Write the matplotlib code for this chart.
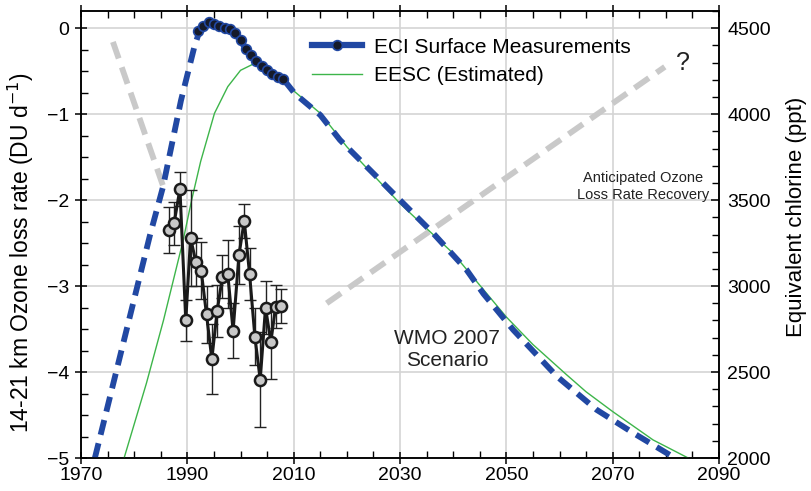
import matplotlib
matplotlib.use("Agg")
import matplotlib.pyplot as plt
from matplotlib.ticker import MultipleLocator

plt.rcParams['font.family'] = ['Liberation Sans', 'DejaVu Sans']

# ECI (dashed model curve), ozone loss rate units
eci_years = [1972.6, 1976, 1980, 1983, 1985.4, 1988.8, 1991.3, 1992.3, 1994.6, 1998.5,
             2001.7, 2005, 2008, 2010.2, 2015, 2018.7, 2025, 2030, 2036.3, 2042.5,
             2045.7, 2051.3, 2059.5, 2067, 2073.9, 2081.7]
eci_vals = [-5.0, -4.15, -3.15, -2.4, -1.85, -0.84, -0.22, -0.03, 0.07, -0.02,
            -0.29, -0.49, -0.59, -0.76, -1.01, -1.30, -1.69, -2.0, -2.39, -2.81,
            -3.09, -3.51, -4.05, -4.44, -4.71, -5.0]

# ECI surface measurements
meas_years = [1992, 1993, 1994, 1995, 1996, 1997, 1998, 1999, 2000, 2001, 2002,
              2003, 2004, 2005, 2006, 2007, 2008]
meas_vals = [-0.03, 0.03, 0.07, 0.05, 0.02, 0.0, -0.01, -0.06, -0.14, -0.24, -0.31,
             -0.38, -0.44, -0.49, -0.53, -0.57, -0.59]

# EESC (estimated)
eesc_years = [1978.1, 1982.3, 1985.5, 1989.2, 1990.8, 1992.5, 1995.1, 1997.6, 2000,
              2002.3, 2004, 2006.2, 2010.6, 2015, 2020, 2025, 2030, 2035, 2040, 2045,
              2050, 2055, 2061.3, 2065, 2070, 2077.6, 2084.2]
eesc_vals = [-5.0, -4.13, -3.40, -2.47, -2.0, -1.55, -0.99, -0.68, -0.49,
             -0.42, -0.45, -0.53, -0.76, -0.99, -1.38, -1.71, -2.04, -2.33, -2.62, -2.99,
             -3.36, -3.68, -4.03, -4.23, -4.46, -4.79, -5.0]

# 14-21 km ozone loss rate observations
loss_years = [1986.6, 1987.5, 1988.6, 1989.7, 1990.6, 1991.6, 1992.6, 1993.6, 1994.6,
              1995.6, 1996.6, 1997.6, 1998.6, 1999.7, 2000.7, 2001.7, 2002.7, 2003.7,
              2004.7, 2005.7, 2006.6, 2007.6]
loss_vals = [-2.35, -2.27, -1.87, -3.40, -2.44, -2.72, -2.82, -3.33, -3.85,
             -3.29, -2.89, -2.86, -3.52, -2.64, -2.24, -2.86, -3.59, -4.09,
             -3.25, -3.65, -3.24, -3.23]
loss_err = [0.27, 0.25, 0.2, 0.24, 0.56, 0.28, 0.33, 0.33, 0.41,
            0.3, 0.25, 0.4, 0.32, 0.34, 0.2, 0.3, 0.33, 0.55,
            0.31, 0.43, 0.25, 0.2]

# anticipated recovery guide lines
rec1_years = [1976.0, 1985.4]
rec1_vals = [-0.16, -1.83]
rec2_years = [2016.2, 2079.8]
rec2_vals = [-3.20, -0.45]

year_ticks = [1970, 1990, 2010, 2030, 2050, 2070, 2090]

blue = '#2148a3'
green = '#3db54a'
grey = '#c9c9c9'

fig = plt.figure(figsize=(8.12, 4.91), dpi=100)
ax = fig.add_axes([0.0998, 0.0672, 0.7857, 0.9104])

ax.plot(rec1_years, rec1_vals, color=grey, lw=4.2, dashes=(3, 1.6), zorder=2)
ax.plot(rec2_years, rec2_vals, color=grey, lw=4.2, dashes=(3, 1.6), zorder=2)

ax.plot(eesc_years, eesc_vals, color=green, lw=1.0, zorder=3)
ax.plot(eci_years, eci_vals, color=blue, lw=4.2, dashes=(2.6, 1.5), zorder=4)
h_meas, = ax.plot(meas_years, meas_vals, color=blue, lw=4.5, marker='o', ms=7,
                  mfc='#151a2a', mec=blue, mew=1.2, zorder=5)
h_eesc, = ax.plot([], [], color=green, lw=1.0)

ax.errorbar(loss_years, loss_vals, yerr=loss_err, fmt='none', ecolor='#222222',
            elinewidth=1.0, capsize=4.5, capthick=1.0, zorder=5)
ax.plot(loss_years, loss_vals, color='#1a1a1a', lw=2.2, marker='o', ms=8,
        mfc='#c8c8c8', mec='#1a1a1a', mew=1.8, zorder=6)

ax.set_xlim(1970, 2090)
ax.set_ylim(-5, 0.2)
ax.set_xticks(year_ticks)
ax.xaxis.set_minor_locator(MultipleLocator(5))
ax.yaxis.set_major_locator(MultipleLocator(1))
ax.yaxis.set_minor_locator(MultipleLocator(0.25))
ax.grid(True, which='major', color='#d4d4d4', lw=1.2, zorder=0)
ax.set_axisbelow(True)

ax.tick_params(axis='both', which='major', labelsize=14, width=1.1, length=9,
               direction='inout', color='black')
ax.tick_params(axis='both', which='minor', width=1.0, length=5, direction='in')
ax.tick_params(axis='x', which='both', top=True)
ax.tick_params(axis='x', which='major', pad=2)
ax.tick_params(axis='y', which='major', pad=4)
for s in ax.spines.values():
    s.set_linewidth(1.1)

ax.set_ylabel('14-21 km Ozone loss rate (DU d$^{-1}$)', fontsize=16.5)
ax.yaxis.set_label_coords(-0.071, 0.46)

ax2 = ax.twinx()
ax2.set_ylim(2000, 4600)
ax2.yaxis.set_major_locator(MultipleLocator(500))
ax2.yaxis.set_minor_locator(MultipleLocator(100))
ax2.tick_params(axis='y', which='major', labelsize=14, direction='in', length=6,
                width=1.1, pad=6)
ax2.tick_params(axis='y', which='minor', direction='in', length=5, width=1.0)
ax2.set_ylabel('Equivalent chlorine (ppt)', fontsize=16)
ax2.yaxis.set_label_coords(1.105, 0.54)
for s in ax2.spines.values():
    s.set_linewidth(1.1)

ax.legend([h_meas, h_eesc], ['ECI Surface Measurements', 'EESC (Estimated)'],
          loc='upper left', bbox_to_anchor=(0.355, 0.95), frameon=False,
          fontsize=15, handlelength=2.4, handletextpad=0.6, labelspacing=0.45,
          borderaxespad=0, borderpad=0.2)

ax.text(2075.7, -1.84, 'Anticipated Ozone\nLoss Rate Recovery', fontsize=10.5,
        ha='center', va='center', linespacing=1.3, color='#222222')
ax.text(2038.8, -3.74, 'WMO 2007\nScenario', fontsize=15, ha='center',
        va='center', color='#222222')
ax.text(2083.2, -0.40, '?', fontsize=18, ha='center', va='center', color='#222222')

fig.savefig('out.png', dpi=100)
